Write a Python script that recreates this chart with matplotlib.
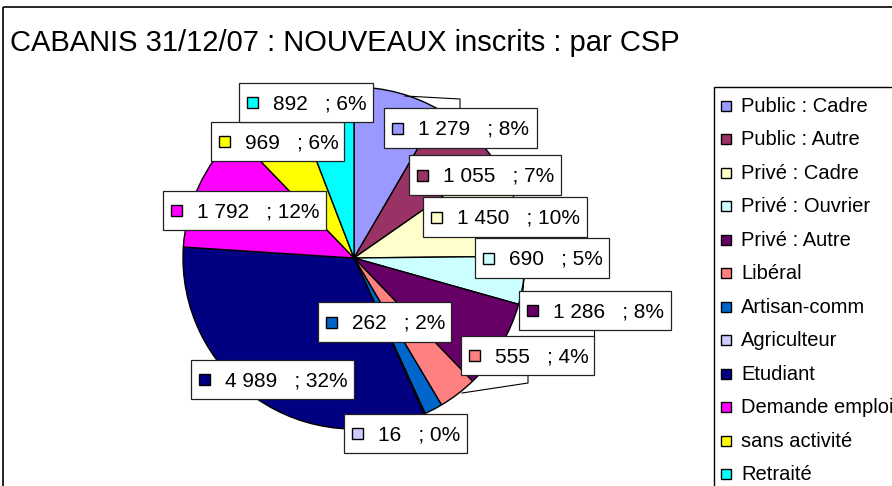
import matplotlib.pyplot as plt
from matplotlib.patches import Rectangle

plt.rcParams['font.family'] = ['Liberation Sans', 'DejaVu Sans']

# Nouveaux inscrits par CSP
categories = ['Public : Cadre', 'Public : Autre', 'Privé : Cadre', 'Privé : Ouvrier',
              'Privé : Autre', 'Libéral', 'Artisan-comm', 'Agriculteur', 'Etudiant',
              'Demande emploi', 'sans activité', 'Retraité']
counts = [1279, 1055, 1450, 690, 1286, 555, 262, 16, 4989, 1792, 969, 892]
percents = [8, 7, 10, 5, 8, 4, 2, 0, 32, 12, 6, 6]
colors = ['#9999FF', '#993366', '#FFFFCC', '#CCFFFF', '#660066', '#FF8080',
          '#0066CC', '#CCCCFF', '#000080', '#FF00FF', '#FFFF00', '#00FFFF']

# label boxes (x0, y0, x1, y1) in pixels, one per category
label_boxes = [(384, 108, 537, 148), (409, 155, 561, 195), (423, 197, 587, 237),
               (475, 238, 609, 278), (519, 291, 671, 330), (461, 336, 594, 375),
               (318, 302, 451, 342), (344, 414, 467, 453), (191, 360, 354, 399),
               (163, 191, 326, 230), (211, 122, 344, 161), (239, 83, 373, 122)]

W, H = 892, 486
fig = plt.figure(figsize=(W / 100, H / 100), dpi=100)
ax = fig.add_axes([0, 0, 1, 1])

# pie, clockwise from 12 o'clock (y axis is flipped below)
ax.pie(counts, colors=colors, startangle=-90, counterclock=True,
       center=(354, 258), radius=171,
       wedgeprops=dict(edgecolor='black', linewidth=1.0))
ax.set_xlim(0, W)
ax.set_ylim(H, 0)
ax.set_aspect('auto')
ax.axis('off')

# chart border
ax.add_patch(Rectangle((3, 7), 2000, 2000, fill=False, edgecolor='black', linewidth=1.2))

# title
ax.text(10, 43, 'CABANIS 31/12/07 : NOUVEAUX inscrits : par CSP', fontsize=21,
        va='center', ha='left')

# leader lines
leaders = [[(405, 96), (460, 99), (460, 108)],
           [(462, 393), (528, 383), (528, 375)],
           [(594, 330), (594, 336)],
           [(524, 278), (523, 291)]]
for pts in leaders:
    xs, ys = zip(*pts)
    ax.plot(xs, ys, color='black', linewidth=0.8)

# data labels
for v, p, c, (x0, y0, x1, y1) in zip(counts, percents, colors, label_boxes):
    ax.add_patch(Rectangle((x0, y0), x1 - x0, y1 - y0, facecolor='white',
                           edgecolor='#222222', linewidth=0.9, zorder=5))
    yc = (y0 + y1) / 2
    ax.add_patch(Rectangle((x0 + 8, yc - 5.5), 11, 11, facecolor=c,
                           edgecolor='black', linewidth=1.0, zorder=6))
    txt = f'{v:,}'.replace(',', ' ') + f'   ; {p}%'
    ax.text(x0 + 34, yc + 1, txt, fontsize=15, va='center', ha='left', zorder=7)

# legend
ax.add_patch(Rectangle((714, 87), 1000, 1000, facecolor='white', edgecolor='black',
                       linewidth=1.0, zorder=5))
for k, (name, c) in enumerate(zip(categories, colors)):
    yc = 105 + 33.5 * k
    ax.add_patch(Rectangle((721, yc - 4.5), 10, 10, facecolor=c, edgecolor='black',
                           linewidth=1.0, zorder=6))
    ax.text(741, yc + 1, name, fontsize=14.5, va='center', ha='left', zorder=7)

fig.savefig('out.png', dpi=100)
